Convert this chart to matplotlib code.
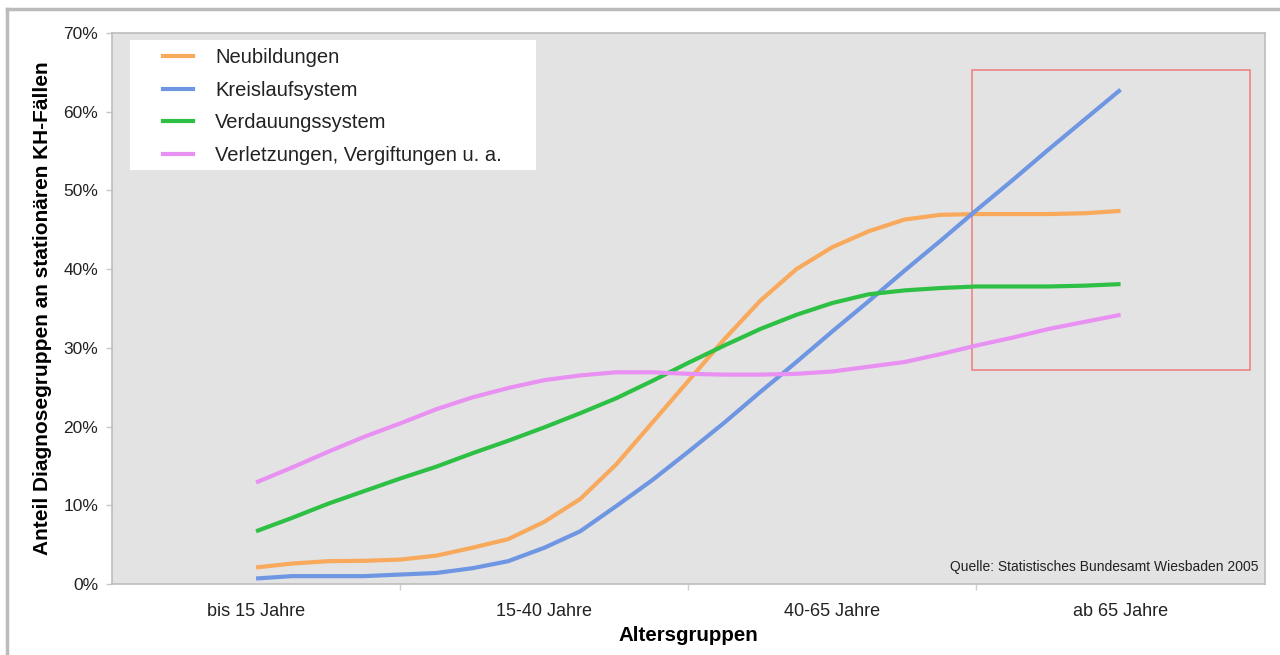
import matplotlib.pyplot as plt
from matplotlib.patches import Rectangle
from matplotlib.lines import Line2D

plt.rcParams['font.family'] = ['Liberation Sans', 'DejaVu Sans']

# Altersgruppen on the category axis
categories = ["bis 15 Jahre", "15-40 Jahre", "40-65 Jahre", "ab 65 Jahre"]

# positions along the category axis (in category units) where the curves were read
x_pos = [0.0, 0.125, 0.25, 0.375, 0.5, 0.625, 0.75, 0.875,
         1.0, 1.125, 1.25, 1.375, 1.5, 1.625, 1.75, 1.875,
         2.0, 2.125, 2.25, 2.375, 2.5, 2.625, 2.75, 2.875, 3.0]

# Anteil in % per diagnosis group
neubildungen = [2.1, 2.6, 2.9, 2.95, 3.1, 3.6, 4.6, 5.7,
                7.9, 10.8, 15.2, 20.5, 25.8, 31.1, 36.0, 40.0,
                42.8, 44.8, 46.3, 46.9, 47.0, 47.0, 47.0, 47.1, 47.4]
kreislauf = [0.7, 1.0, 1.0, 1.0, 1.2, 1.4, 2.0, 2.9,
             4.6, 6.7, 9.9, 13.2, 16.8, 20.5, 24.4, 28.2,
             32.1, 35.9, 39.8, 43.6, 47.5, 51.3, 55.2, 59.0, 62.8]
verdauung = [6.7, 8.4, 10.2, 11.8, 13.4, 14.9, 16.6, 18.2,
             19.9, 21.7, 23.6, 25.8, 28.1, 30.3, 32.4, 34.2,
             35.7, 36.8, 37.3, 37.6, 37.8, 37.8, 37.8, 37.9, 38.1]
verletzungen = [12.9, 14.8, 16.8, 18.7, 20.4, 22.2, 23.7, 24.9,
                25.9, 26.5, 26.9, 26.9, 26.7, 26.6, 26.6, 26.7,
                27.0, 27.6, 28.2, 29.2, 30.3, 31.3, 32.4, 33.3, 34.2]

series = [
    ("Neubildungen", neubildungen, "#F8A95C"),
    ("Kreislaufsystem", kreislauf, "#6F96E2"),
    ("Verdauungssystem", verdauung, "#2EC044"),
    ("Verletzungen, Vergiftungen u. a.", verletzungen, "#E891F2"),
]

# highlighted region (category units, percent)
box_x = (2.485, 3.45)
box_y = (27.2, 65.3)

fig = plt.figure(figsize=(12.8, 6.55), dpi=100)
ax = fig.add_axes([0.0875, 0.1084, 0.9005, 0.8412])
ax.set_facecolor("#E3E3E3")

for name, vals, col in series:
    ax.plot(x_pos, vals, color=col, linewidth=3, solid_capstyle="butt",
            solid_joinstyle="round", label=name)

ax.add_patch(Rectangle((box_x[0], box_y[0]), box_x[1] - box_x[0], box_y[1] - box_y[0],
                       fill=False, edgecolor="#EC8585", linewidth=1.2))

ax.set_xlim(-0.5, 3.5)
ax.set_ylim(0, 70)
ax.set_yticks(range(0, 71, 10))
ax.set_yticklabels([f"{v}%" for v in range(0, 71, 10)], fontsize=12.5, color="#222222")
ax.set_xticks(range(4))
ax.set_xticklabels(categories, fontsize=13, color="#222222")
ax.set_xticks([0.5, 1.5, 2.5], minor=True)
ax.tick_params(axis="x", which="major", length=0, pad=14)
ax.tick_params(axis="x", which="minor", length=4, color="#D0D0D0", width=1)
ax.tick_params(axis="y", length=4, color="#C8C8C8", width=1, pad=6)

for s in ax.spines.values():
    s.set_color("#BDBDBD")
    s.set_linewidth(1.2)

ax.set_xlabel("Altersgruppen", fontsize=14.8, fontweight="bold", labelpad=4)
ax.set_ylabel("Anteil Diagnosegruppen an stationären KH-Fällen", fontsize=15,
              fontweight="bold", labelpad=8)

# white legend panel, legend entries drawn on top without their own frame
ax.add_patch(Rectangle((0.0156, 0.7514), 0.3521, 0.2356, transform=ax.transAxes,
                       facecolor="white", edgecolor="none", zorder=4))
handles = [Line2D([], [], color=c, linewidth=3) for _, _, c in series]
leg = ax.legend(handles, [n for n, _, _ in series], loc="upper left",
                bbox_to_anchor=(0.0442, 0.972), fontsize=14.5, frameon=False,
                handlelength=1.5, handletextpad=1.1, labelspacing=0.67,
                borderpad=0.0, borderaxespad=0.0)
leg.set_zorder(5)
for t in leg.get_texts():
    t.set_color("#222222")

ax.text(0.995, 0.018, "Quelle: Statistisches Bundesamt Wiesbaden 2005",
        transform=ax.transAxes, ha="right", va="bottom", fontsize=10,
        color="#222222", family=["Liberation Sans Narrow", "Liberation Sans"])

# page frame lines on top and left
fig.add_artist(Line2D([0.0055, 1.0], [0.986, 0.986], color="#BBBBBB", linewidth=2.5,
                      transform=fig.transFigure))
fig.add_artist(Line2D([0.0055, 0.0055], [0.0, 0.986], color="#BBBBBB", linewidth=2.5,
                      transform=fig.transFigure))

fig.savefig("out.png", dpi=100, facecolor="white")
